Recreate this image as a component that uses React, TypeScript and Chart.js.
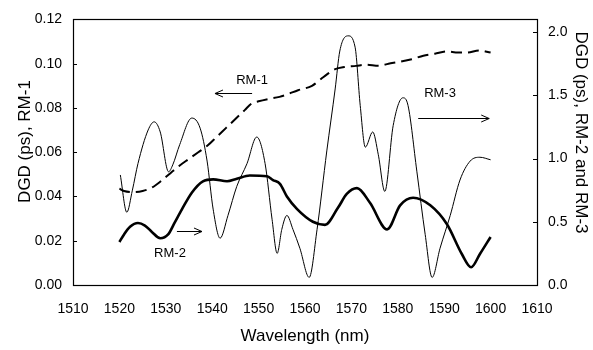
import React, { useEffect, useRef } from "react";
import { Chart, registerables } from "chart.js";

Chart.register(...registerables);

// Axis ranges
const xMin = 1510;
const xMax = 1610;
const xStep = 10;
const leftMax = 0.12;
const leftStep = 0.02;
const rightMax = 2.1;
const rightStep = 0.5;

// RM-1 (dashed, left axis)
const rm1Wavelength = [1520, 1521, 1523, 1525, 1527, 1529, 1531, 1533, 1535, 1537, 1539, 1541, 1543, 1545, 1547, 1548.5, 1550, 1552, 1554.5, 1556, 1558.5, 1561.5, 1564, 1566.5, 1568.5, 1571, 1573, 1576, 1578, 1580, 1583, 1585.5, 1588, 1590.5, 1593, 1595, 1597.5, 1600];
const rm1Dgd = [0.0435, 0.0425, 0.042, 0.0425, 0.044, 0.047, 0.0505, 0.054, 0.057, 0.06, 0.063, 0.067, 0.071, 0.075, 0.079, 0.082, 0.083, 0.084, 0.085, 0.086, 0.088, 0.09, 0.094, 0.0975, 0.0985, 0.099, 0.0995, 0.099, 0.1, 0.1007, 0.102, 0.1036, 0.1045, 0.1055, 0.105, 0.105, 0.106, 0.105];

// RM-2 (thick, right axis)
const rm2Wavelength = [1520, 1521, 1522.3, 1524, 1525.5, 1527, 1528.8, 1530.5, 1532, 1533.5, 1535.6, 1538, 1540.2, 1543.2, 1545.3, 1548.1, 1551.8, 1553.1, 1554.6, 1556.1, 1558.3, 1561.7, 1564.3, 1567.1, 1569, 1571.2, 1574, 1577.7, 1580.5, 1583.3, 1587, 1590.6, 1593.8, 1595.8, 1597.7, 1600];
const rm2Dgd = [0.34, 0.4, 0.46, 0.49, 0.47, 0.42, 0.37, 0.4, 0.5, 0.6, 0.73, 0.82, 0.835, 0.82, 0.84, 0.866, 0.86, 0.83, 0.8, 0.7, 0.6, 0.5, 0.475, 0.61, 0.72, 0.766, 0.65, 0.44, 0.63, 0.69, 0.63, 0.48, 0.245, 0.14, 0.245, 0.38];

// RM-3 (thin, right axis)
const rm3Wavelength = [1520.2, 1521.6, 1522.8, 1524, 1526.2, 1527.5, 1528.8, 1530.6, 1531.5, 1533, 1535.6, 1537.4, 1538.9, 1540.2, 1541.7, 1543.4, 1545.3, 1547.5, 1549.6, 1551.4, 1552.9, 1554, 1555, 1556.1, 1557.4, 1558.9, 1560.9, 1562.6, 1564.7, 1566.5, 1567.5, 1569.3, 1570.8, 1571.9, 1573, 1574.6, 1575.8, 1577.2, 1579, 1581.1, 1582.2, 1584.1, 1585.9, 1587.4, 1589.1, 1591.3, 1593.4, 1595.6, 1597.7, 1600];
const rm3Dgd = [0.87, 0.575, 0.75, 0.96, 1.226, 1.29, 1.21, 0.895, 0.95, 1.11, 1.32, 1.24, 0.98, 0.6, 0.37, 0.55, 0.78, 0.96, 1.17, 0.96, 0.52, 0.25, 0.44, 0.55, 0.44, 0.29, 0.06, 0.44, 1.06, 1.55, 1.85, 1.97, 1.88, 1.42, 1.09, 1.21, 1.03, 0.74, 1.26, 1.48, 1.42, 0.9, 0.4, 0.06, 0.29, 0.55, 0.83, 0.98, 1.01, 0.99];

// Annotation labels (data units: wavelength, left-axis DGD)
const noteTexts = ["RM-1", "RM-2", "RM-3"];
const noteX = [1548.6, 1530.9, 1589.1];
const noteY = [0.0923, 0.0141, 0.0866];
const arrowFromX = [1548.6, 1532.4, 1584.4];
const arrowToX = [1540.6, 1537.8, 1599.7];
const arrowY = [0.0866, 0.0242, 0.0756];

const leftTitle = "DGD (ps), RM-1";
const rightTitle = "DGD (ps), RM-2 and RM-3";
const xTitle = "Wavelength (nm)";

const FONT = "'Liberation Sans', Arial, Helvetica, sans-serif";

const toPoints = (xs: number[], ys: number[]) => xs.map((x, i) => ({ x, y: ys[i] }));

const decorPlugin = {
  id: "decor",
  afterDraw(chart: any) {
    const { ctx, chartArea, scales } = chart;
    const { left, right, top, bottom } = chartArea;
    ctx.save();
    ctx.strokeStyle = "#000";
    ctx.lineWidth = 1.2;
    ctx.strokeRect(Math.round(left) + 0.5, Math.round(top) + 0.5, Math.round(right - left), Math.round(bottom - top));
    // inner tick marks
    ctx.lineWidth = 1;
    const yl = scales.yL;
    yl.ticks.forEach((t: any) => {
      const p = Math.round(yl.getPixelForValue(t.value)) + 0.5;
      ctx.beginPath();
      ctx.moveTo(left, p);
      ctx.lineTo(left + 4, p);
      ctx.stroke();
    });
    const yr = scales.yR;
    yr.ticks.forEach((t: any) => {
      const p = Math.round(yr.getPixelForValue(t.value)) + 0.5;
      ctx.beginPath();
      ctx.moveTo(right, p);
      ctx.lineTo(right - 4, p);
      ctx.stroke();
    });
    // y titles
    ctx.fillStyle = "#000";
    ctx.font = `17px ${FONT}`;
    ctx.textAlign = "center";
    ctx.textBaseline = "alphabetic";
    ctx.save();
    ctx.translate(30, 141.5);
    ctx.rotate(-Math.PI / 2);
    ctx.fillText(leftTitle, 0, 0);
    ctx.restore();
    ctx.save();
    ctx.translate(576, 132.5);
    ctx.rotate(Math.PI / 2);
    ctx.fillText(rightTitle, 0, 0);
    ctx.restore();
    // annotations
    const xs = scales.x;
    ctx.font = `13px ${FONT}`;
    ctx.textBaseline = "middle";
    noteTexts.forEach((txt, i) => {
      ctx.fillText(txt, xs.getPixelForValue(noteX[i]), yl.getPixelForValue(noteY[i]));
      const x0 = xs.getPixelForValue(arrowFromX[i]);
      const x1 = xs.getPixelForValue(arrowToX[i]);
      const ay = Math.round(yl.getPixelForValue(arrowY[i])) + 0.5;
      const dir = x1 > x0 ? 1 : -1;
      ctx.beginPath();
      ctx.moveTo(x0, ay);
      ctx.lineTo(x1, ay);
      ctx.moveTo(x1 - dir * 8, ay - 3.5);
      ctx.lineTo(x1, ay);
      ctx.lineTo(x1 - dir * 8, ay + 3.5);
      ctx.stroke();
    });
    ctx.restore();
  },
};

export default function App() {
  const ref = useRef<HTMLCanvasElement | null>(null);
  useEffect(() => {
    if (!ref.current) return;
    const chart = new Chart(ref.current, {
      type: "line",
      data: {
        datasets: [
          {
            label: "RM-1",
            data: toPoints(rm1Wavelength, rm1Dgd),
            yAxisID: "yL",
            borderColor: "#000",
            borderWidth: 2,
            borderDash: [11, 6],
            pointRadius: 0,
            cubicInterpolationMode: "monotone",
            fill: false,
          },
          {
            label: "RM-2",
            data: toPoints(rm2Wavelength, rm2Dgd),
            yAxisID: "yR",
            borderColor: "#000",
            borderWidth: 2.6,
            pointRadius: 0,
            cubicInterpolationMode: "monotone",
            fill: false,
          },
          {
            label: "RM-3",
            data: toPoints(rm3Wavelength, rm3Dgd),
            yAxisID: "yR",
            borderColor: "#000",
            borderWidth: 1,
            pointRadius: 0,
            cubicInterpolationMode: "monotone",
            fill: false,
          },
        ],
      },
      options: {
        responsive: false,
        animation: false,
        devicePixelRatio: 1,
        layout: { padding: { top: 12, left: 0, right: 0, bottom: 0 } },
        plugins: { legend: { display: false }, tooltip: { enabled: false } },
        scales: {
          x: {
            type: "linear",
            min: xMin,
            max: xMax,
            ticks: { stepSize: xStep, color: "#000", font: { family: FONT, size: 14 }, padding: 16, maxRotation: 0, callback: (v: any) => String(Math.round(Number(v))) },
            grid: { display: false, drawTicks: false },
            border: { display: false },
            title: { display: true, text: xTitle, color: "#000", font: { family: FONT, size: 17 }, padding: { top: 4, bottom: 3 } },
            afterFit: (s: any) => { s.height = 65; },
          },
          yL: {
            type: "linear",
            position: "left",
            min: 0,
            max: leftMax,
            ticks: { stepSize: leftStep, color: "#000", font: { family: FONT, size: 14 }, padding: 11, callback: (v: any) => Number(v).toFixed(2) },
            grid: { display: false, drawTicks: false },
            border: { display: false },
            afterFit: (s: any) => { s.width = 73; },
          },
          yR: {
            type: "linear",
            position: "right",
            min: 0,
            max: rightMax,
            ticks: { stepSize: rightStep, includeBounds: false, color: "#000", font: { family: FONT, size: 14 }, padding: 11, callback: (v: any) => Number(v).toFixed(1) },
            grid: { display: false, drawTicks: false },
            border: { display: false },
            afterFit: (s: any) => { s.width = 56; },
          },
        },
      },
      plugins: [decorPlugin],
    } as any);
    return () => chart.destroy();
  }, []);
  return (
    <div style={{ position: "absolute", left: 0, top: 0, width: 593, height: 350, background: "#fff" }}>
      <canvas ref={ref} width={593} height={350} style={{ display: "block" }} />
    </div>
  );
}
